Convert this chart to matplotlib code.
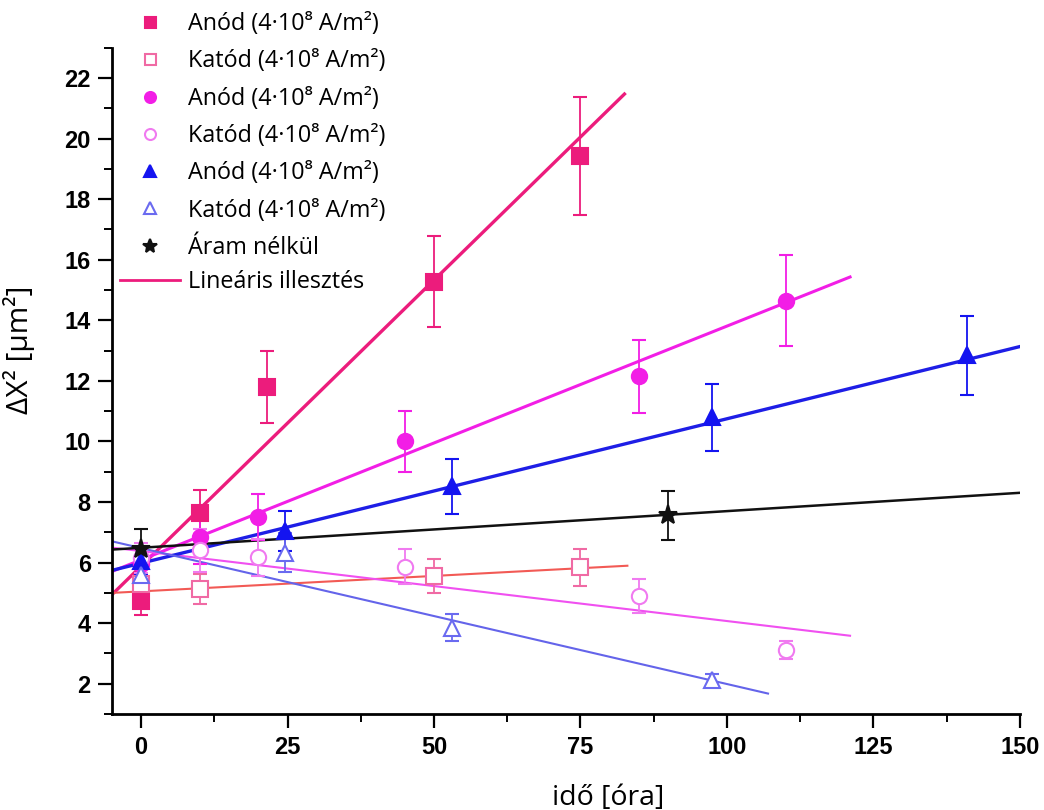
import numpy as np
import matplotlib
matplotlib.use("Agg")
from matplotlib import pyplot as plt
from matplotlib.lines import Line2D
from matplotlib.ticker import MultipleLocator

# 数据
t_anod_sq = [0, 10, 21.5, 50, 75]
y_anod_sq = [4.72, 7.65, 11.8, 15.28, 19.43]
e_anod_sq = [0.45, 0.75, 1.2, 1.5, 1.95]

t_katod_sq = [0, 10, 50, 75]
y_katod_sq = [5.3, 5.13, 5.57, 5.84]
e_katod_sq = [0.5, 0.5, 0.56, 0.6]

t_anod_ci = [0, 10, 20, 45, 85, 110]
y_anod_ci = [5.95, 6.86, 7.5, 10.0, 12.15, 14.65]
e_anod_ci = [0.5, 0.9, 0.75, 1.0, 1.2, 1.5]

t_katod_ci = [0, 10, 20, 45, 85, 110]
y_katod_ci = [6.15, 6.4, 6.17, 5.87, 4.9, 3.12]
e_katod_ci = [0.5, 0.7, 0.62, 0.58, 0.55, 0.3]

t_anod_tr = [0, 24.5, 53, 97.5, 141]
y_anod_tr = [6.05, 7.03, 8.52, 10.8, 12.85]
e_anod_tr = [0.45, 0.66, 0.9, 1.1, 1.3]

t_katod_tr = [0, 24.5, 53, 97.5]
y_katod_tr = [5.6, 6.33, 3.85, 2.13]
e_katod_tr = [0.5, 0.65, 0.45, 0.2]

t_nincs = [0, 90]
y_nincs = [6.46, 7.56]
e_nincs = [0.65, 0.82]

# 线性拟合参数: (x起点, x终点, 斜率, 截距)
fit_anod_sq = (-5, 82.5, 0.189, 5.88)
fit_katod_sq = (-5, 83, 0.0102, 5.05)
fit_anod_ci = (-5, 121, 0.0772, 6.09)
fit_katod_ci = (-5, 121, -0.0231, 6.38)
fit_anod_tr = (-5, 150, 0.0477, 5.98)
fit_katod_tr = (-5, 107, -0.0449, 6.48)
fit_nincs = (-5, 150, 0.0121, 6.49)

labels = ["Anód (4·10⁸ A/m²)", "Katód (4·10⁸ A/m²)",
          "Anód (4·10⁸ A/m²)", "Katód (4·10⁸ A/m²)",
          "Anód (4·10⁸ A/m²)", "Katód (4·10⁸ A/m²)",
          "Áram nélkül"]
fit_label = "Lineáris illesztés"

TEXT_FONT = ["Open Sans", "Noto Sans", "DejaVu Sans"]
TICK_FONT = ["Liberation Sans", "DejaVu Sans"]

plt.rcParams.update({
    "font.family": TEXT_FONT,
    "xtick.direction": "out",
    "ytick.direction": "out",
})

fig = plt.figure(figsize=(10.44, 8.1), dpi=100)
ax = fig.add_axes([0.107, 0.1185, 0.870, 0.8225])

# (数据, 误差, 颜色, 标记, 填充, 拟合, 拟合颜色, 拟合线宽)
series = [
    (t_anod_sq, y_anod_sq, e_anod_sq, "#ec1c7c", "s", True, fit_anod_sq, "#ec1c7c", 2.4),
    (t_katod_sq, y_katod_sq, e_katod_sq, "#f06aa4", "s", False, fit_katod_sq, "#f25a55", 1.5),
    (t_anod_ci, y_anod_ci, e_anod_ci, "#f21ee6", "o", True, fit_anod_ci, "#f21ee6", 2.2),
    (t_katod_ci, y_katod_ci, e_katod_ci, "#f07af0", "o", False, fit_katod_ci, "#f050f0", 1.5),
    (t_anod_tr, y_anod_tr, e_anod_tr, "#1414f0", "^", True, fit_anod_tr, "#1e1ee6", 2.4),
    (t_katod_tr, y_katod_tr, e_katod_tr, "#6a6af0", "^", False, fit_katod_tr, "#6464ea", 1.5),
    (t_nincs, y_nincs, e_nincs, "#111111", "*", True, fit_nincs, "#111111", 1.8),
]

handles = []
for t, y, e, c, m, filled, fit, fc, flw in series:
    x0, x1, k, b = fit
    xs = np.array([x0, x1])
    ax.plot(xs, k * xs + b, color=fc, lw=flw, zorder=2)
    ms = 14 if m == "*" else (12 if m == "^" else 11)
    ax.errorbar(t, y, yerr=e, fmt=m, color=c, ecolor=c, elinewidth=1.3,
                capsize=5, capthick=1.3, markersize=ms,
                markerfacecolor=c if filled else "white",
                markeredgecolor=c, markeredgewidth=1.5, zorder=3)
    handles.append(Line2D([], [], ls="none", marker=m, markersize=ms * 0.72,
                          markerfacecolor=c if filled else "white",
                          markeredgecolor=c, markeredgewidth=1.5))
fit_handle = Line2D([], [], color="#ec1c7c", lw=2)

ax.set_xlim(-5, 150)
ax.set_ylim(1, 23)
ax.xaxis.set_major_locator(MultipleLocator(25))
ax.xaxis.set_minor_locator(MultipleLocator(12.5))
ax.yaxis.set_major_locator(MultipleLocator(2))
ax.yaxis.set_minor_locator(MultipleLocator(1))

for s in ["top", "right"]:
    ax.spines[s].set_visible(False)
for s in ["left", "bottom"]:
    ax.spines[s].set_linewidth(2)

ax.tick_params(which="major", length=10, width=1.6)
ax.tick_params(which="minor", length=5.5, width=1.4)
ax.tick_params(axis="x", which="major", pad=6)
ax.tick_params(axis="y", which="major", pad=5)
for lab in ax.get_xticklabels() + ax.get_yticklabels():
    lab.set_family(TICK_FONT)
    lab.set_fontweight("bold")
    lab.set_fontsize(17)

ax.set_xlabel("idő [óra]", fontsize=20.5)
ax.set_ylabel("ΔX² [μm²]", fontsize=21.5)
ax.xaxis.set_label_coords(0.546, -0.105)
ax.yaxis.set_label_coords(-0.084, 0.547)

leg_kw = dict(loc="upper left", bbox_transform=fig.transFigure, frameon=False,
              fontsize=16.8, handlelength=2.57, handletextpad=0.35,
              labelspacing=0.57, borderpad=0, borderaxespad=0)
leg1 = ax.legend(handles, labels, bbox_to_anchor=(0.115, 0.985), **leg_kw)
ax.add_artist(leg1)
ax.legend([fit_handle], [fit_label], bbox_to_anchor=(0.115, 0.667), **leg_kw)

plt.savefig("out.png", dpi=100)
